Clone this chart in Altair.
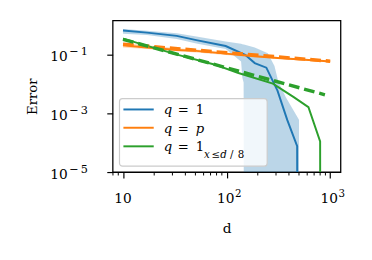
import altair as alt
import pandas as pd

SERIF = "DejaVu Serif, Liberation Serif, serif"
BLUE, ORANGE, GREEN = "#1f77b4", "#ff7f0e", "#2ca02c"

# ---- data ----
# q = 1 (mean + band); 1e-9 stands for a value of zero (drops below the axis)
d_q1 = [10, 17, 33, 51, 98, 151, 187, 242, 310, 385, 480, 482]
err_q1 = [0.64, 0.54, 0.42, 0.30, 0.19, 0.096, 0.05, 0.035, 0.0058, 5.9e-4, 7.6e-5, 1e-9]
band_d_q1 = [10, 17, 33, 51, 98, 138, 142, 146, 147, 187, 250, 290, 315, 372, 500, 502]
band_hi_q1 = [0.72, 0.63, 0.52, 0.40, 0.27, 0.225, 0.22, 0.215, 0.215, 0.17, 0.108, 0.04, 0.012, 0.0035, 6e-4, 1e-9]
band_lo_q1 = [0.50, 0.45, 0.33, 0.23, 0.15, 0.057, 0.016, 0.011, 1e-9, 1e-9, 1e-9, 1e-9, 1e-9, 1e-9, 1e-9, 1e-9]

# q = p
d_qp = [10, 17, 33, 51, 98, 187, 310, 480, 800, 1000]
err_qp = [0.20, 0.17, 0.14, 0.13, 0.105, 0.085, 0.075, 0.067, 0.06, 0.057]
lo_qp = [0.17, 0.15, 0.125, 0.115, 0.095, 0.079, 0.07, 0.063, 0.057, 0.054]
hi_qp = [0.24, 0.20, 0.16, 0.145, 0.115, 0.092, 0.081, 0.072, 0.064, 0.061]
fit_d_qp = [10, 1000]
fit_qp = [0.22, 0.058]

# q = 1_{x<=d/8}
d_qs = [10, 16.5, 34, 76, 130, 280, 445, 617, 800, 803]
err_qs = [0.34, 0.20, 0.095, 0.045, 0.023, 0.010, 0.0035, 0.0016, 1.1e-4, 1e-9]
fit_d_qs = [10, 890]
fit_qs = [0.32, 0.0042]

xticks = [10, 100, 1000]
xtick_base = ["10", "10", "10"]
xtick_exp = ["", "2", "3"]
xminor = [8, 9, 20, 30, 40, 50, 60, 70, 80, 90, 200, 300, 400, 500, 600, 700, 800, 900]
yticks = [1e-1, 1e-3, 1e-5]
ytick_exp = ["\u2212\u20091", "\u2212\u20093", "\u2212\u20095"]

W, H = 233, 155

xscale = alt.Scale(type="log", domain=[10 ** 0.9, 10 ** 3.1], nice=False)
yscale = alt.Scale(type="log", domain=[1e-5, 1.4], nice=False)
xaxis = alt.Axis(values=xticks, labels=False, ticks=True, tickSize=6, tickWidth=1.2,
                 tickColor="black", domain=False, grid=False, title="d",
                 titleFont=SERIF, titleFontSize=14, titleFontWeight="normal",
                 titleColor="black", titleX=W / 2, titleY=62, titleBaseline="alphabetic")
yaxis = alt.Axis(values=yticks, labels=False, ticks=True, tickSize=6, tickWidth=1.2,
                 tickColor="black", domain=False, grid=False, title="Error",
                 titleFont=SERIF, titleFontSize=13.5, titleFontWeight="normal",
                 titleColor="black", titleAngle=270, titleX=-78, titleY=H / 2,
                 titleAlign="center", titleBaseline="alphabetic")

X = alt.X("d:Q", scale=xscale, axis=xaxis)
Y = alt.Y("e:Q", scale=yscale, axis=yaxis)
Y2 = alt.Y2("e2:Q")

def series(d, e):
    return pd.DataFrame({"d": d, "e": e})

band_q1 = pd.DataFrame({"d": band_d_q1, "e": band_hi_q1, "e2": band_lo_q1})
band_qp = pd.DataFrame({"d": d_qp, "e": hi_qp, "e2": lo_qp})

layers = []
layers.append(alt.Chart(band_q1).mark_area(color=BLUE, opacity=0.3, clip=True).encode(x=X, y=Y, y2=Y2))
layers.append(alt.Chart(series(d_q1, err_q1)).mark_line(color=BLUE, strokeWidth=2, clip=True).encode(x=X, y=Y))
layers.append(alt.Chart(band_qp).mark_area(color=ORANGE, opacity=0.3, clip=True).encode(x=X, y=Y, y2=Y2))
layers.append(alt.Chart(series(d_qp, err_qp)).mark_line(color=ORANGE, strokeWidth=2, clip=True).encode(x=X, y=Y))
layers.append(alt.Chart(series(d_qs, err_qs)).mark_line(color=GREEN, strokeWidth=2, clip=True).encode(x=X, y=Y))
layers.append(alt.Chart(series(fit_d_qp, fit_qp)).mark_line(color=ORANGE, strokeWidth=3.5, strokeDash=[11, 5], clip=True).encode(x=X, y=Y))
layers.append(alt.Chart(series(fit_d_qs, fit_qs)).mark_line(color=GREEN, strokeWidth=3.5, strokeDash=[11, 5], clip=True).encode(x=X, y=Y))

# minor x ticks
layers.append(alt.Chart(pd.DataFrame({"d": xminor})).mark_rule(color="black", strokeWidth=1).encode(
    x=X, y=alt.value(H), y2=alt.value(H + 3.5)))

# tick labels
xl = pd.DataFrame({"d": xticks, "base": xtick_base, "exp": xtick_exp})
xl_plain = xl[xl["exp"] == ""]
xl_sup = xl[xl["exp"] != ""]
layers.append(alt.Chart(xl_plain).mark_text(font=SERIF, fontSize=14, align="center", baseline="alphabetic", color="black").encode(
    x=X, y=alt.value(H + 32), text="base:N"))
layers.append(alt.Chart(xl_sup).mark_text(font=SERIF, fontSize=14, align="right", baseline="alphabetic", color="black", dx=8).encode(
    x=X, y=alt.value(H + 32), text="base:N"))
layers.append(alt.Chart(xl_sup).mark_text(font=SERIF, fontSize=10.5, align="left", baseline="alphabetic", color="black", dx=8.5).encode(
    x=X, y=alt.value(H + 25), text="exp:N"))

yl = pd.DataFrame({"e": yticks, "exp": ytick_exp})
layers.append(alt.Chart(yl).mark_text(font=SERIF, fontSize=14, align="right", baseline="alphabetic", color="black", dy=7).encode(
    y=Y, x=alt.value(-46), text=alt.value("10")))
layers.append(alt.Chart(yl).mark_text(font=SERIF, fontSize=11.5, align="left", baseline="alphabetic", color="black", dy=1).encode(
    y=Y, x=alt.value(-44.5), text="exp:N"))

# legend
one = pd.DataFrame({"k": [0]})
layers.append(alt.Chart(one).mark_rect(fill="white", fillOpacity=0.8, stroke="#cccccc", strokeWidth=1.2,
                                       cornerRadius=3).encode(
    x=alt.value(7), x2=alt.value(158), y=alt.value(80), y2=alt.value(149)))
for col, yy in [(BLUE, 91), (ORANGE, 109.7), (GREEN, 128.7)]:
    layers.append(alt.Chart(one).mark_rule(color=col, strokeWidth=2).encode(
        x=alt.value(11), x2=alt.value(42), y=alt.value(yy)))

def txt(s, x, y, size=13.5, italic=False):
    return alt.Chart(one).mark_text(text=s, font=SERIF, fontSize=size,
                                    fontStyle="italic" if italic else "normal",
                                    align="left", baseline="alphabetic", color="black").encode(
        x=alt.value(x), y=alt.value(y))

for yy, last, last_it in [(96, "1", False), (114.7, "p", True), (133.7, "1", False)]:
    layers.append(txt("q", 52.3, yy, italic=True))
    layers.append(txt("=", 66.5, yy))
    layers.append(txt(last, 85, yy, italic=last_it))
layers.append(txt("x", 93.3, 140.3, size=10.5, italic=True))
layers.append(txt("\u2264", 101, 140.3, size=10.5))
layers.append(txt("d", 110, 140.3, size=10.5, italic=True))
layers.append(txt("/", 120, 140.3, size=10.5))
layers.append(txt("8", 128, 140.3, size=10.5))

chart = alt.layer(*layers).properties(
    width=W, height=H, autosize="none",
    padding={"left": 107, "top": 10, "right": 24, "bottom": 79},
    background="white",
).configure_view(stroke="black", strokeWidth=1.3)

chart.save("out.html", embed_options={"renderer": "svg", "actions": False})
